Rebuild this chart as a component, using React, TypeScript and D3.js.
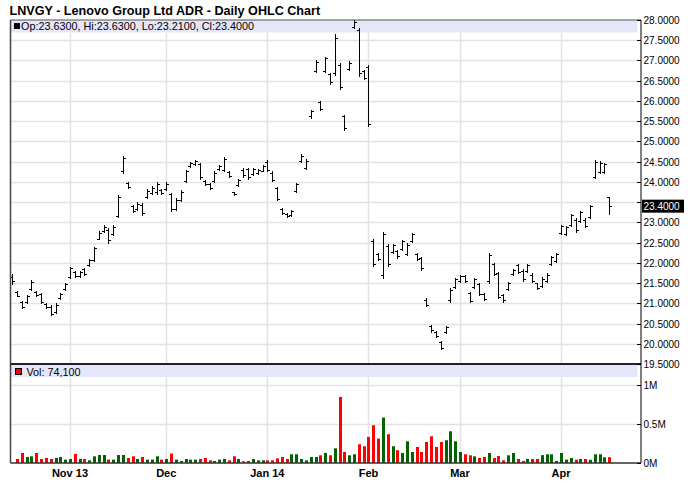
import * as React from 'react';
import * as d3 from 'd3';

// trading calendar of the chart
const firstDay = '2013-10-16';
const lastDay = '2014-04-15';
const holidays = ['2013-11-28', '2013-12-25', '2014-01-01', '2014-01-20', '2014-02-17'];

const opens = [
  21.66, 21.28, 21.02, 21.03, 21.36, 21.28, 21.24, 20.98, 20.92, 20.78,
  21.12, 21.36, 21.65, 21.78, 21.68, 21.84, 21.95, 22.08, 22.60, 22.78,
  22.82, 22.71, 23.16, 24.26, 23.98, 23.40, 23.33, 23.44, 23.62, 23.73,
  23.74, 23.80, 23.83, 23.69, 23.34, 23.55, 24.03, 24.40, 24.44, 24.44,
  24.03, 23.96, 24.03, 24.32, 24.30, 24.25, 23.74, 23.92, 24.30, 24.31,
  24.20, 24.22, 24.28, 24.50, 24.23, 23.85, 23.33, 23.21, 23.18, 23.77,
  24.52, 24.35, 25.62, 26.75, 25.97, 26.75, 26.66, 26.68, 26.90, 25.62,
  26.80, 27.82, 27.75, 26.74, 26.85, 22.55, 22.21, 21.70, 22.42, 22.27,
  22.29, 22.35, 22.23, 22.55, 22.22, 22.12, 21.09, 20.43, 20.30, 20.04,
  20.29, 21.07, 21.40, 21.55, 21.68, 21.26, 21.40, 21.48, 21.24, 21.55,
  21.96, 21.75, 21.20, 21.36, 21.72, 21.94, 21.81, 21.80, 21.71, 21.49,
  21.43, 21.55, 21.97, 22.05, 22.74, 22.71, 22.93, 23.07, 23.04, 23.07,
  23.12, 24.12, 24.25, 24.25, 23.63,
];
const highs = [
  21.72, 21.30, 21.05, 21.21, 21.58, 21.30, 21.26, 21.00, 20.95, 21.00,
  21.25, 21.50, 21.90, 21.80, 21.80, 21.87, 22.10, 22.40, 22.78, 22.93,
  22.85, 22.93, 23.68, 24.65, 24.00, 23.43, 23.50, 23.47, 23.82, 23.90,
  24.00, 23.82, 24.00, 23.72, 23.60, 23.80, 24.30, 24.50, 24.55, 24.47,
  24.05, 23.98, 24.26, 24.42, 24.62, 24.27, 23.76, 24.08, 24.34, 24.34,
  24.34, 24.32, 24.42, 24.55, 24.26, 23.88, 23.35, 23.23, 23.30, 23.98,
  24.68, 24.57, 25.78, 27.00, 26.00, 27.09, 26.69, 27.66, 26.94, 25.66,
  26.98, 28.00, 27.80, 26.77, 26.90, 22.59, 22.24, 22.77, 22.46, 22.46,
  22.32, 22.57, 22.48, 22.73, 22.25, 22.15, 21.12, 20.46, 20.32, 20.07,
  20.44, 21.37, 21.62, 21.70, 21.70, 21.29, 21.62, 21.51, 21.26, 22.25,
  21.99, 21.78, 21.23, 21.53, 21.84, 21.97, 21.84, 21.97, 21.74, 21.51,
  21.64, 21.74, 22.17, 22.24, 22.94, 22.91, 23.21, 23.10, 23.29, 23.10,
  23.43, 24.55, 24.51, 24.47, 23.63,
];
const lows = [
  21.48, 21.17, 20.88, 21.00, 21.33, 21.17, 21.00, 20.88, 20.70, 20.75,
  21.10, 21.33, 21.62, 21.64, 21.66, 21.70, 21.92, 22.05, 22.58, 22.75,
  22.50, 22.68, 23.13, 24.22, 23.85, 23.25, 23.30, 23.18, 23.60, 23.70,
  23.70, 23.70, 23.80, 23.28, 23.30, 23.52, 24.00, 24.38, 24.42, 24.08,
  23.92, 23.83, 24.00, 24.30, 24.26, 24.12, 23.68, 23.90, 24.12, 24.08,
  24.18, 24.20, 24.26, 24.26, 24.02, 23.55, 23.21, 23.13, 23.16, 23.75,
  24.50, 24.32, 25.59, 26.72, 25.78, 26.72, 26.42, 26.63, 26.30, 25.29,
  26.77, 27.80, 26.61, 26.53, 25.37, 21.93, 22.07, 21.62, 21.93, 22.24,
  22.13, 22.32, 22.20, 22.52, 22.07, 21.82, 20.93, 20.30, 20.16, 19.86,
  20.27, 21.04, 21.37, 21.53, 21.53, 21.02, 21.37, 21.20, 21.08, 21.51,
  21.70, 21.12, 21.04, 21.33, 21.70, 21.74, 21.56, 21.78, 21.53, 21.35,
  21.41, 21.53, 21.95, 22.03, 22.72, 22.69, 22.91, 22.77, 23.02, 22.88,
  23.10, 24.09, 24.22, 24.22, 23.21,
];
const closes = [
  21.55, 21.19, 20.92, 21.18, 21.52, 21.20, 21.03, 20.90, 20.74, 20.97,
  21.22, 21.47, 21.86, 21.67, 21.77, 21.72, 22.06, 22.36, 22.74, 22.89,
  22.56, 22.89, 23.62, 24.58, 23.88, 23.28, 23.46, 23.22, 23.78, 23.86,
  23.95, 23.73, 23.96, 23.32, 23.55, 23.76, 24.26, 24.47, 24.52, 24.12,
  23.95, 23.86, 24.22, 24.39, 24.57, 24.15, 23.70, 24.04, 24.16, 24.12,
  24.31, 24.29, 24.39, 24.30, 24.05, 23.58, 23.23, 23.15, 23.27, 23.95,
  24.65, 24.52, 25.74, 26.96, 25.81, 27.05, 26.46, 27.55, 26.35, 25.33,
  26.94, 27.96, 26.68, 26.57, 25.42, 21.97, 22.10, 22.70, 21.98, 22.43,
  22.16, 22.54, 22.45, 22.70, 22.10, 21.86, 20.96, 20.33, 20.19, 19.89,
  20.42, 21.34, 21.59, 21.68, 21.55, 21.05, 21.59, 21.23, 21.10, 22.20,
  21.73, 21.15, 21.07, 21.50, 21.82, 21.77, 21.59, 21.94, 21.56, 21.37,
  21.61, 21.71, 22.14, 22.21, 22.91, 22.88, 23.18, 22.80, 23.26, 22.91,
  23.40, 24.50, 24.47, 24.43, 23.40,
];
// volume in thousands of shares
const volumesK = [
  0, 51, 128, 77, 85, 128, 51, 64, 51, 64,
  77, 43, 51, 115, 51, 51, 34, 85, 102, 102,
  43, 43, 102, 102, 64, 85, 51, 77, 43, 43,
  85, 43, 51, 120, 43, 26, 51, 43, 43, 51,
  64, 34, 26, 43, 51, 34, 85, 51, 22, 26,
  51, 34, 34, 34, 34, 60, 77, 51, 111, 111,
  51, 34, 77, 77, 98, 128, 98, 187, 842, 140,
  98, 111, 238, 213, 332, 481, 311, 579, 366, 213,
  162, 128, 277, 140, 204, 140, 268, 340, 204, 268,
  290, 404, 277, 140, 111, 98, 85, 64, 77, 128,
  64, 89, 34, 98, 128, 51, 26, 51, 51, 51,
  100, 111, 111, 26, 128, 43, 64, 42, 51, 51,
  42, 111, 111, 72, 74.1,
];

const monthStarts = ['2013-11-01', '2013-12-02', '2014-01-02', '2014-02-03', '2014-03-03', '2014-04-01'];
const monthLabels = ['Nov 13', 'Dec', 'Jan 14', 'Feb', 'Mar', 'Apr'];
const priceTicks = [19.5, 20, 20.5, 21, 21.5, 22, 22.5, 23, 23.5, 24, 24.5, 25, 25.5, 26, 26.5, 27, 27.5, 28];
const volumeTicks = [0, 500000, 1000000];
const volumeTickLabels = ['0M', '0.5M', '1M'];

const title = 'LNVGY - Lenovo Group Ltd ADR - Daily OHLC Chart';
const FONT = '"Liberation Sans", Arial, sans-serif';

class OhlcChart extends React.Component {
  private element;

  componentDidMount() {
    this.init();
  }

  init() {
    const svg = d3.select(this.element);
    svg.selectAll('*').remove();

    const left = 10.5, right = 641;
    const priceTop = 20, priceBottom = 364;
    const volTop = 364, volBottom = 463;

    const fmt = d3.utcFormat('%Y-%m-%d');
    const parse = d3.utcParse('%Y-%m-%d');
    const days = d3.utcDay.range(parse(firstDay), d3.utcDay.offset(parse(lastDay), 1))
      .filter(d => d.getUTCDay() !== 0 && d.getUTCDay() !== 6 && !holidays.includes(fmt(d)))
      .map(fmt);

    const data = days.map((date, i) => ({
      date, i,
      open: opens[i], high: highs[i], low: lows[i], close: closes[i],
      volume: Math.round(volumesK[i] * 1000),
    }));
    const n = data.length;

    const x = d3.scaleLinear().domain([-0.35, n - 1 + 6.6]).range([left, right]);
    const y = d3.scaleLinear().domain([19.5, 28]).range([priceBottom, priceTop]);
    const yv = d3.scaleLinear().domain([0, 1000000]).range([volBottom, 384.5]);
    const px = (v) => Math.round(v) + 0.5;

    const g = svg.append('g');

    g.append('rect').attr('x', left).attr('y', priceTop).attr('width', right - left).attr('height', volBottom - priceTop).attr('fill', '#fff');

    // horizontal grid
    g.append('g').selectAll('line').data(priceTicks).enter().append('line')
      .attr('x1', left).attr('x2', right)
      .attr('y1', d => px(y(d))).attr('y2', d => px(y(d)))
      .attr('stroke', '#e2e2e2').attr('stroke-width', 1.5);
    g.append('g').selectAll('line').data(volumeTicks.slice(1)).enter().append('line')
      .attr('x1', left).attr('x2', right)
      .attr('y1', d => px(yv(d))).attr('y2', d => px(yv(d)))
      .attr('stroke', '#e2e2e2').attr('stroke-width', 1.5);

    // vertical month grid
    const monthIdx = monthStarts.map(m => days.indexOf(m));
    g.append('g').selectAll('line').data(monthIdx).enter().append('line')
      .attr('x1', d => px(x(d))).attr('x2', d => px(x(d)))
      .attr('y1', priceTop).attr('y2', volBottom)
      .attr('stroke', '#e2e2e2').attr('stroke-width', 1.5);

    // header bands
    const last = data[n - 1];
    const f4 = d3.format('.4f');
    g.append('rect').attr('x', left + 0.5).attr('y', priceTop + 0.5).attr('width', right - left - 4).attr('height', 12).attr('fill', '#e6e6fa');
    g.append('rect').attr('x', left + 0.5).attr('y', volTop + 1).attr('width', right - left - 4).attr('height', 12).attr('fill', '#e6e6fa');
    g.append('rect').attr('x', 14.5).attr('y', 23.5).attr('width', 5).attr('height', 5).attr('fill', '#000').attr('stroke', '#000');
    g.append('text').attr('x', 21).attr('y', 30).attr('font-size', 10.8).attr('font-family', FONT)
      .text(`Op:${f4(last.open)}, Hi:${f4(last.high)}, Lo:${f4(last.low)}, Cl:${f4(last.close)}`);
    g.append('rect').attr('x', 15.5).attr('y', 368.5).attr('width', 6).attr('height', 6).attr('fill', '#f00').attr('stroke', '#000');
    g.append('text').attr('x', 26.5).attr('y', 375.5).attr('font-size', 10.8).attr('font-family', FONT)
      .text(`Vol: ${d3.format(',')(last.volume)}`);

    // volume bars
    g.append('g').selectAll('rect').data(data.filter(d => d.volume > 0)).enter().append('rect')
      .attr('x', d => Math.round(x(d.i)) - 1)
      .attr('width', 3)
      .attr('y', d => yv(d.volume))
      .attr('height', d => volBottom - yv(d.volume))
      .attr('fill', d => (d.close >= d.open ? '#006400' : '#ff0000'));

    // OHLC bars
    const bars = g.append('g').attr('stroke', '#000').attr('stroke-width', 1).attr('shape-rendering', 'crispEdges');
    bars.selectAll('line.hl').data(data).enter().append('line').attr('class', 'hl')
      .attr('x1', d => px(x(d.i))).attr('x2', d => px(x(d.i)))
      .attr('y1', d => Math.round(y(d.high))).attr('y2', d => Math.round(y(d.low)) + 1);
    bars.selectAll('line.op').data(data).enter().append('line').attr('class', 'op')
      .attr('x1', d => Math.round(x(d.i)) - 2).attr('x2', d => Math.round(x(d.i)))
      .attr('y1', d => px(y(d.open))).attr('y2', d => px(y(d.open)));
    bars.selectAll('line.cl').data(data).enter().append('line').attr('class', 'cl')
      .attr('x1', d => Math.round(x(d.i)) + 1).attr('x2', d => Math.round(x(d.i)) + 3)
      .attr('y1', d => px(y(d.close))).attr('y2', d => px(y(d.close)));

    // frame
    const frame = g.append('g').attr('fill', 'none');
    frame.append('line').attr('x1', left).attr('x2', right).attr('y1', priceTop).attr('y2', priceTop).attr('stroke', '#555');
    frame.append('line').attr('x1', left).attr('x2', left).attr('y1', priceTop).attr('y2', volBottom).attr('stroke', '#444').attr('stroke-width', 1.5);
    frame.append('line').attr('x1', left).attr('x2', right).attr('y1', volTop).attr('y2', volTop).attr('stroke', '#222').attr('stroke-width', 2);
    frame.append('line').attr('x1', left).attr('x2', right).attr('y1', volBottom).attr('y2', volBottom).attr('stroke', '#333').attr('stroke-width', 1.5);
    frame.append('line').attr('x1', right).attr('x2', right).attr('y1', priceTop).attr('y2', volBottom).attr('stroke', '#000');

    // right price axis
    const lastY = y(last.close);
    const axis = g.append('g').attr('font-family', FONT).attr('font-size', 10);
    axis.selectAll('line.pt').data(priceTicks).enter().append('line').attr('class', 'pt')
      .attr('x1', right - 4).attr('x2', right).attr('y1', d => px(y(d))).attr('y2', d => px(y(d))).attr('stroke', '#000');
    axis.selectAll('text.pl').data(priceTicks.filter(t => Math.abs(y(t) - lastY) > 9)).enter().append('text').attr('class', 'pl')
      .attr('x', right + 2.5).attr('y', d => y(d) + 4).text(d => f4(d));
    axis.append('rect').attr('x', right + 1).attr('y', lastY - 6.5).attr('width', 42).attr('height', 13).attr('fill', '#000');
    axis.append('text').attr('x', right + 2.5).attr('y', lastY + 4).attr('fill', '#fff').text(f4(last.close));

    // right volume axis
    axis.selectAll('line.vt').data(volumeTicks).enter().append('line').attr('class', 'vt')
      .attr('x1', right - 4).attr('x2', right).attr('y1', d => px(yv(d))).attr('y2', d => px(yv(d))).attr('stroke', '#000');
    axis.selectAll('text.vl').data(volumeTicks).enter().append('text').attr('class', 'vl')
      .attr('x', right + 2.5).attr('y', d => yv(d) + 4).text((d, i) => volumeTickLabels[i]);

    // month labels
    g.append('g').selectAll('text').data(monthIdx).enter().append('text')
      .attr('x', d => x(d)).attr('y', 476.5)
      .attr('text-anchor', 'middle').attr('font-family', FONT).attr('font-size', 11).attr('font-weight', 'bold')
      .text((d, i) => monthLabels[i]);

    // title
    g.append('text').attr('x', 9.5).attr('y', 14.5)
      .attr('font-family', FONT).attr('font-size', 12.6).attr('font-weight', 'bold')
      .text(title);
  }

  render() {
    return (
      <svg
        ref={(ref) => (this.element = ref)}
        width={688}
        height={503}
        style={{ position: 'absolute', left: 0, top: 0, background: '#fff' }}
      />
    );
  }
}

export default function App() {
  return <OhlcChart />;
}
